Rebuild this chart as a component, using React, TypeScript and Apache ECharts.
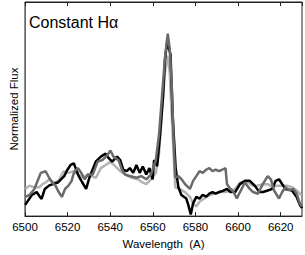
import React, { useEffect, useRef } from "react";
import * as echarts from "echarts";

const xTicks = [6500, 6520, 6540, 6560, 6580, 6600, 6620];
const title = "Constant Hα";
const xName = "Wavelength  (A)";
const yName = "Normalized Flux";

const blackLambda = [6500.1, 6503.2, 6505.5, 6507.0, 6507.8, 6509.3, 6511.4, 6513.1, 6515.4, 6516.9, 6518.4, 6519.9, 6521.4, 6522.9, 6525.2, 6526.9, 6528.7, 6530.2, 6533.3, 6535.6, 6537.8, 6539.4, 6540.9, 6543.2, 6544.7, 6546.1, 6547.7, 6549.2, 6550.8, 6552.3, 6553.8, 6555.3, 6556.9, 6558.4, 6559.9, 6560.6, 6562.0, 6563.4, 6564.8, 6565.7, 6566.7, 6568.3, 6569.3, 6570.7, 6572.0, 6573.4, 6575.7, 6576.6, 6577.8, 6578.9, 6580.4, 6581.9, 6583.4, 6585.0, 6586.5, 6588.0, 6589.5, 6591.1, 6592.6, 6594.8, 6596.4, 6598.6, 6600.9, 6603.2, 6605.5, 6607.8, 6610.0, 6611.7, 6613.9, 6616.1, 6617.6, 6619.2, 6620.7, 6622.2, 6625.3, 6627.5, 6629.0, 6630.0];
const blackFlux = [0.736, 0.857, 0.892, 0.833, 0.810, 0.930, 0.973, 0.988, 1.008, 1.047, 1.086, 1.163, 1.221, 1.241, 1.086, 1.008, 0.930, 1.066, 1.265, 1.323, 1.358, 1.300, 1.261, 1.323, 1.280, 1.163, 1.145, 1.183, 1.125, 1.221, 1.125, 1.203, 1.105, 1.183, 1.047, 1.280, 1.206, 1.591, 2.058, 2.500, 2.720, 2.562, 1.824, 1.183, 0.950, 0.857, 0.813, 0.740, 0.620, 0.755, 0.833, 0.813, 0.857, 0.837, 0.872, 0.892, 0.872, 0.892, 0.903, 0.930, 0.892, 0.892, 0.988, 1.028, 1.028, 0.970, 0.892, 0.892, 0.911, 0.930, 1.028, 1.047, 0.988, 0.930, 0.911, 0.833, 0.736, 0.697];

const darkLambda = [6500.1, 6502.1, 6504.4, 6507.4, 6509.7, 6511.3, 6512.8, 6514.3, 6515.8, 6517.3, 6518.8, 6520.4, 6521.9, 6522.7, 6523.4, 6524.9, 6526.4, 6528.0, 6529.5, 6531.8, 6534.1, 6536.3, 6538.6, 6540.1, 6541.6, 6543.9, 6545.5, 6547.0, 6549.2, 6552.3, 6554.6, 6556.9, 6559.1, 6561.4, 6562.9, 6564.3, 6565.7, 6567.0, 6567.9, 6568.9, 6569.8, 6570.5, 6572.0, 6573.5, 6575.1, 6577.4, 6578.9, 6580.4, 6581.9, 6583.4, 6585.0, 6586.5, 6588.0, 6589.5, 6591.1, 6592.6, 6594.1, 6594.8, 6596.4, 6597.9, 6599.4, 6600.9, 6603.2, 6605.5, 6607.0, 6609.3, 6611.6, 6613.9, 6615.4, 6616.9, 6619.2, 6620.7, 6622.2, 6624.0, 6626.0, 6627.5, 6629.0, 6630.0];
const darkFlux = [0.833, 0.857, 0.930, 1.125, 1.145, 1.066, 1.008, 0.970, 0.892, 0.833, 0.930, 0.970, 1.028, 1.105, 1.145, 1.183, 1.125, 1.047, 1.105, 1.105, 1.261, 1.280, 1.338, 1.396, 1.319, 1.280, 1.163, 1.105, 1.086, 1.066, 1.086, 1.047, 1.105, 1.280, 1.591, 2.058, 2.524, 2.815, 2.640, 2.174, 1.475, 1.066, 1.086, 1.047, 0.988, 0.930, 1.028, 1.086, 1.145, 1.125, 1.163, 1.183, 1.145, 1.163, 1.145, 1.163, 1.183, 0.988, 0.930, 0.892, 0.813, 0.892, 1.008, 0.930, 0.892, 0.872, 0.988, 1.086, 1.047, 0.911, 0.813, 0.892, 0.950, 0.915, 0.930, 0.872, 0.755, 0.717];

const lightLambda = [6500.1, 6502.1, 6504.4, 6506.7, 6508.2, 6509.7, 6511.3, 6513.5, 6515.8, 6518.1, 6520.4, 6522.7, 6524.9, 6527.2, 6529.5, 6531.0, 6533.3, 6535.6, 6537.8, 6540.1, 6542.4, 6544.7, 6547.0, 6550.0, 6553.0, 6555.3, 6556.9, 6559.1, 6561.4, 6562.9, 6564.3, 6565.7, 6566.8, 6567.9, 6569.1, 6570.5, 6572.8, 6575.1, 6577.4, 6578.9, 6580.4, 6581.9, 6584.2, 6586.5, 6588.8, 6591.1, 6594.1, 6596.4, 6598.6, 6600.9, 6602.6, 6604.7, 6607.0, 6609.3, 6611.6, 6613.9, 6616.1, 6618.4, 6620.7, 6623.0, 6625.3, 6627.5, 6629.8];
const lightFlux = [0.930, 0.970, 0.950, 0.950, 0.988, 1.008, 1.047, 1.008, 1.028, 1.145, 1.125, 1.145, 1.105, 1.066, 1.105, 1.086, 1.066, 1.183, 1.221, 1.261, 1.203, 1.145, 1.105, 1.066, 1.047, 1.008, 0.988, 1.047, 1.125, 1.358, 1.883, 2.349, 2.547, 2.349, 1.708, 0.950, 0.927, 0.892, 0.833, 0.755, 0.717, 0.775, 0.813, 0.853, 0.872, 0.892, 0.892, 0.911, 0.930, 1.008, 1.008, 1.008, 0.970, 0.970, 0.988, 0.988, 0.950, 0.970, 0.970, 0.970, 0.950, 0.911, 0.853];

const zip = (xs: number[], ys: number[]) => xs.map((x, i) => [x, ys[i]]);

export default function App() {
  const ref = useRef<HTMLDivElement>(null);
  useEffect(() => {
    if (!ref.current) return;
    const chart = echarts.init(ref.current, null, { renderer: "svg" });
    const font = "'Liberation Sans', Arial, Helvetica, sans-serif";
    const xMin = xTicks[0];
    const xMax = 6630;
    chart.setOption({
      animation: false,
      textStyle: { fontFamily: font },
      grid: { left: 17, top: 2, right: 3, bottom: 30, show: true, borderColor: "#222", borderWidth: 1 },
      graphic: [
        { type: "text", left: 29, top: 14, style: { text: title, font: `16px ${font}`, fill: "#000" } },
      ],
      xAxis: [
        {
          type: "value", position: "bottom", min: xMin, max: xMax, interval: 20,
          axisLine: { show: true, lineStyle: { color: "#222" } },
          axisTick: { show: true, inside: true, length: 4, lineStyle: { color: "#222" } },
          axisLabel: { color: "#000", fontSize: 11.5, fontFamily: font, margin: 5, showMaxLabel: false, formatter: (v: number) => String(v) },
          splitLine: { show: false },
          name: xName, nameLocation: "middle", nameGap: 19,
          nameTextStyle: { color: "#000", fontSize: 11.5, fontFamily: font },
        },
        {
          type: "value", position: "top", min: xMin, max: xMax, interval: 20,
          axisLine: { show: true, lineStyle: { color: "#222" } },
          axisTick: { show: true, inside: true, length: 4, lineStyle: { color: "#222" } },
          axisLabel: { show: false },
          splitLine: { show: false },
        },
      ],
      yAxis: {
        type: "value", min: 0.6, max: 3.2,
        axisLine: { show: true, lineStyle: { color: "#666" } },
        axisTick: { show: false }, axisLabel: { show: false }, splitLine: { show: false },
        name: yName, nameLocation: "middle", nameGap: 5,
        nameTextStyle: { color: "#000", fontSize: 11.5, fontFamily: font },
      },
      series: [
        { type: "line", data: zip(lightLambda, lightFlux), showSymbol: false, lineStyle: { color: "#b4b4b4", width: 2.5 }, z: 2 },
        { type: "line", data: zip(blackLambda, blackFlux), showSymbol: false, lineStyle: { color: "#000", width: 2.5 }, z: 3 },
        { type: "line", data: zip(darkLambda, darkFlux), showSymbol: false, lineStyle: { color: "#6a6a6a", width: 2.5 }, z: 4 },
      ],
    });
    return () => chart.dispose();
  }, []);
  return <div ref={ref} style={{ position: "absolute", left: 0, top: 0, width: 305, height: 255 }} />;
}
